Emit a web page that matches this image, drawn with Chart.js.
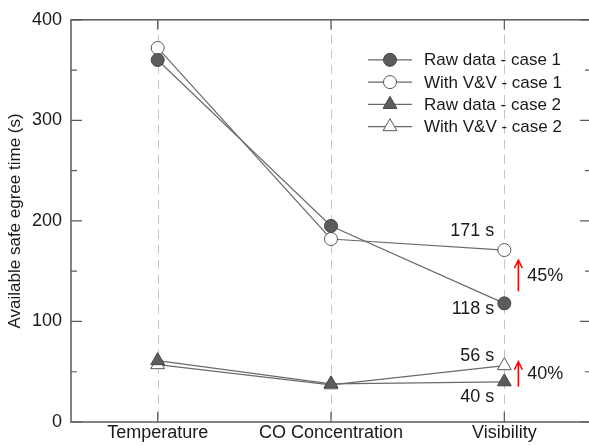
<!DOCTYPE html>
<html>
<head>
<meta charset="utf-8">
<script src="https://cdn.jsdelivr.net/npm/chart.js@4.4.1/dist/chart.umd.min.js"></script>
<style>
html, body { margin: 0; padding: 0; background: #fff; overflow: hidden; }
#wrap { width: 600px; height: 445px; }
</style>
</head>
<body>
<div id="wrap"><canvas id="chart"></canvas></div>
<script>
const categories = ['Temperature', 'CO Concentration', 'Visibility'];
const rawCase1 = [360, 195, 118];
const vvCase1 = [372, 182, 171];
const rawCase2 = [61, 38, 40];
const vvCase2 = [57, 37, 56];
const seriesNames = ['Raw data - case 1', 'With V&V - case 1', 'Raw data - case 2', 'With V&V - case 2'];
const yTicks = [0, 100, 200, 300, 400];
const yMinor = [50, 150, 250, 350];
const arrowNotes = [
    { from: 130, to: 161, text: '45%' },
    { from: 35, to: 60, text: '40%' }
];

const FONT = '"Liberation Sans", Arial, sans-serif';
const LINE = '#6a6a6a';
const DARK = '#5c5c5c';

const toPts = arr => arr.map((v, i) => ({ x: i, y: v }));

function series(label, values, style, filled) {
    return {
        label: label,
        data: toPts(values),
        borderColor: LINE,
        borderWidth: 1.2,
        pointStyle: style,
        pointRadius: style === 'circle' ? 6.5 : 8,
        pointBackgroundColor: filled ? DARK : '#ffffff',
        pointBorderColor: filled ? '#444' : '#555',
        pointBorderWidth: 1,
        tension: 0,
        clip: false
    };
}

function marker(ctx, style, x, y, r, fill, stroke) {
    ctx.save();
    ctx.fillStyle = fill;
    ctx.strokeStyle = stroke;
    ctx.lineWidth = 1;
    ctx.beginPath();
    if (style === 'circle') {
        ctx.arc(x, y, r, 0, Math.PI * 2);
    } else {
        ctx.moveTo(x, y - r);
        ctx.lineTo(x + r * 0.866, y + r / 2);
        ctx.lineTo(x - r * 0.866, y + r / 2);
        ctx.closePath();
    }
    ctx.fill();
    ctx.stroke();
    ctx.restore();
}

const framePlugin = {
    id: 'frame',
    beforeDatasetsDraw(chart) {
        const { ctx, chartArea: a, scales: { x } } = chart;
        ctx.save();
        ctx.strokeStyle = '#c4c4c4';
        ctx.lineWidth = 1;
        ctx.setLineDash([9, 6]);
        categories.forEach((c, i) => {
            const px = Math.round(x.getPixelForValue(i)) + 0.5;
            ctx.beginPath();
            ctx.moveTo(px, a.top);
            ctx.lineTo(px, a.bottom);
            ctx.stroke();
        });
        ctx.restore();
    },
    afterDatasetsDraw(chart) {
        const { ctx, chartArea: a, scales: { x, y } } = chart;
        ctx.save();
        ctx.strokeStyle = '#5a5a5a';
        ctx.lineWidth = 1.5;
        ctx.strokeRect(a.left, a.top, a.right - a.left, a.bottom - a.top);

        ctx.lineWidth = 1.2;
        ctx.beginPath();
        yTicks.forEach(v => {
            const py = y.getPixelForValue(v);
            ctx.moveTo(a.left, py); ctx.lineTo(a.left + 11, py);
            ctx.moveTo(a.right, py); ctx.lineTo(a.right - 11, py);
        });
        yMinor.forEach(v => {
            const py = y.getPixelForValue(v);
            ctx.moveTo(a.left, py); ctx.lineTo(a.left + 6, py);
            ctx.moveTo(a.right, py); ctx.lineTo(a.right - 6, py);
        });
        categories.forEach((c, i) => {
            const px = x.getPixelForValue(i);
            ctx.moveTo(px, a.bottom); ctx.lineTo(px, a.bottom - 10);
            ctx.moveTo(px, a.top); ctx.lineTo(px, a.top + 10);
        });
        ctx.stroke();

        // value labels at Visibility
        const last = categories.length - 1;
        const vx = x.getPixelForValue(last);
        ctx.fillStyle = '#1a1a1a';
        ctx.font = '18px ' + FONT;
        ctx.textAlign = 'right';
        ctx.textBaseline = 'middle';
        ctx.fillText(vvCase1[last] + ' s', vx - 10, y.getPixelForValue(vvCase1[last]) - 19);
        ctx.fillText(rawCase1[last] + ' s', vx - 10, y.getPixelForValue(rawCase1[last]) + 6);
        ctx.fillText(vvCase2[last] + ' s', vx - 10, y.getPixelForValue(vvCase2[last]) - 10);
        ctx.fillText(rawCase2[last] + ' s', vx - 10, y.getPixelForValue(rawCase2[last]) + 15);

        // red arrows
        const ax = vx + 14;
        arrowNotes.forEach(n => {
            const y0 = y.getPixelForValue(n.from);
            const y1 = y.getPixelForValue(n.to);
            ctx.strokeStyle = '#ff0000';
            ctx.lineWidth = 1.5;
            ctx.beginPath();
            ctx.moveTo(ax, y0); ctx.lineTo(ax, y1);
            ctx.moveTo(ax - 4, y1 + 8); ctx.lineTo(ax, y1); ctx.lineTo(ax + 4, y1 + 8);
            ctx.stroke();
            ctx.textAlign = 'left';
            ctx.fillStyle = '#1a1a1a';
            ctx.fillText(n.text, ax + 9, (y0 + y1) / 2);
        });

        // legend
        const lx = a.right - 223, ly = a.top + 40, step = 22.3;
        ctx.font = '17px ' + FONT;
        ctx.textAlign = 'left';
        chart.data.datasets.forEach((ds, i) => {
            const yy = ly + i * step;
            ctx.strokeStyle = LINE;
            ctx.lineWidth = 1.2;
            ctx.beginPath();
            ctx.moveTo(lx, yy); ctx.lineTo(lx + 44, yy);
            ctx.stroke();
            marker(ctx, ds.pointStyle, lx + 22, yy, ds.pointStyle === 'circle' ? 6.5 : 8,
                ds.pointBackgroundColor, ds.pointBorderColor);
            ctx.fillStyle = '#1a1a1a';
            ctx.fillText(ds.label, lx + 56, yy + 1);
        });
        ctx.restore();
    }
};

const ctx = document.getElementById('chart').getContext('2d');
const chart = new Chart(ctx, {
    type: 'line',
    data: {
        datasets: [
            series(seriesNames[0], rawCase1, 'circle', true),
            series(seriesNames[1], vvCase1, 'circle', false),
            series(seriesNames[2], rawCase2, 'triangle', true),
            series(seriesNames[3], vvCase2, 'triangle', false)
        ]
    },
    options: {
        responsive: true,
        maintainAspectRatio: false,
        animation: false,
        layout: { padding: { top: 14, right: 9, left: 0, bottom: 0 } },
        plugins: { legend: { display: false }, tooltip: { enabled: false } },
        scales: {
            x: {
                type: 'linear',
                min: -0.5,
                max: 2.5,
                afterBuildTicks: s => { s.ticks = categories.map((c, i) => ({ value: i })); },
                afterFit: s => { s.height = 23; },
                grid: { display: false, drawTicks: false },
                border: { display: false },
                ticks: {
                    padding: 0,
                    color: '#1a1a1a',
                    font: { family: FONT, size: 18 },
                    callback: v => categories[v]
                }
            },
            y: {
                min: 0,
                max: 400,
                afterBuildTicks: s => { s.ticks = yTicks.map(v => ({ value: v })); },
                afterFit: s => { s.width = 71; },
                grid: { display: false, drawTicks: false },
                border: { display: false },
                ticks: {
                    padding: 9,
                    color: '#1a1a1a',
                    font: { family: FONT, size: 18 }
                },
                title: {
                    display: true,
                    text: 'Available safe egree time (s)',
                    color: '#1a1a1a',
                    font: { family: FONT, size: 17 },
                    padding: { top: 5, bottom: 0 }
                }
            }
        }
    },
    plugins: [framePlugin]
});
</script>
</body>
</html>
